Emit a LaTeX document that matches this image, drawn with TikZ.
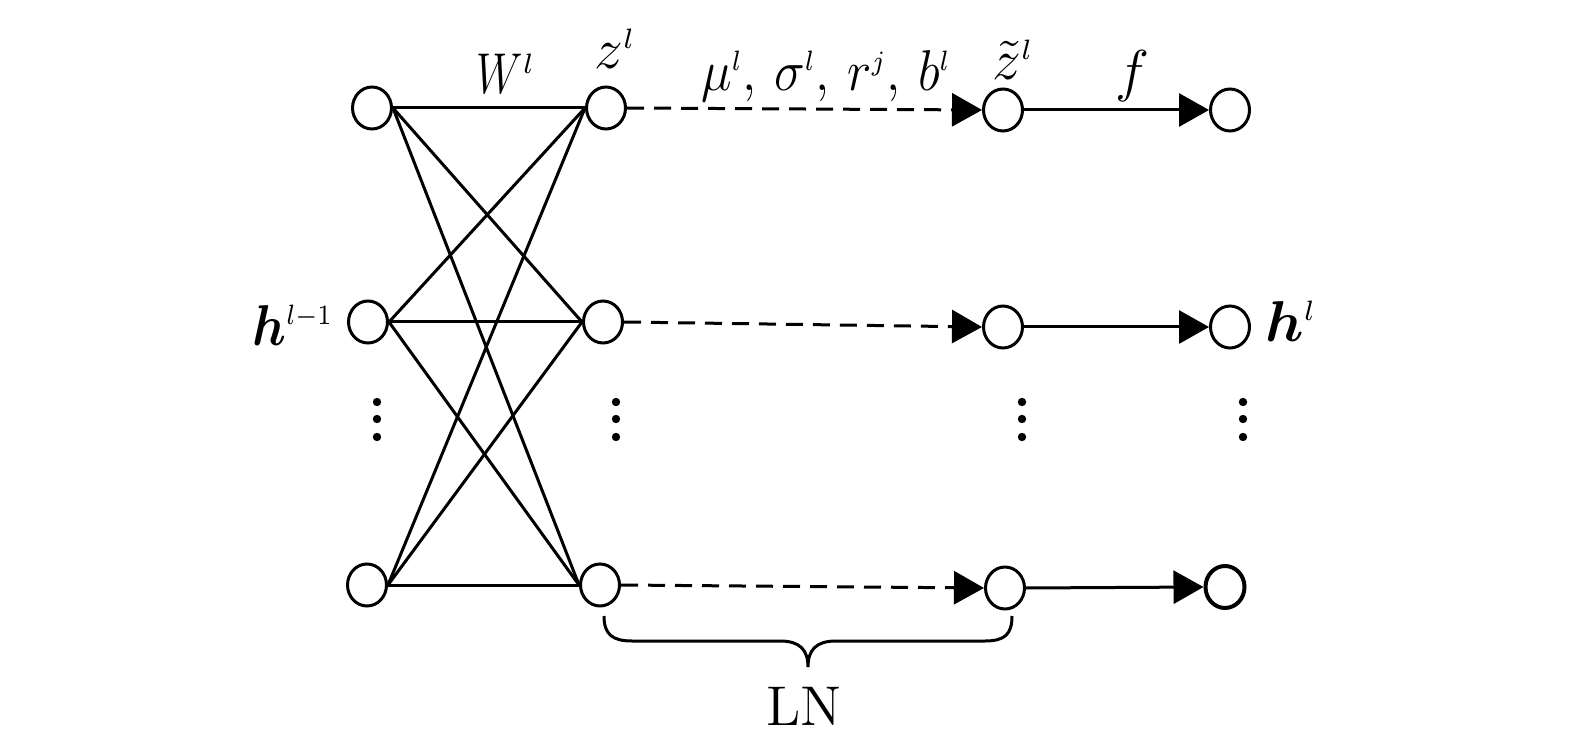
\documentclass[tikz,border=0pt]{standalone}
\usepackage{amsmath,bm,graphicx}
\usetikzlibrary{arrows.meta,shapes.geometric}
\newcommand{\ssup}[1]{^{\scriptscriptstyle #1}}
\begin{document}
\begin{tikzpicture}[x=0.25pt,y=-0.25pt,
  neuron/.style={ellipse,draw,line width=0.75pt,minimum width=9.75pt,minimum height=10.5pt,inner sep=0pt},
  conn/.style={line width=0.75pt},
  lnarrow/.style={line width=0.75pt,dash pattern=on 4.25pt off 2.5pt,-{Triangle[length=7.5pt,width=8.25pt]}},
  farrow/.style={line width=0.75pt,-{Triangle[length=7.5pt,width=8.25pt]}},
  dotnode/.style={circle,fill,inner sep=0pt,minimum size=2.1pt},
  lbl/.style={anchor=base,inner sep=0pt,font=\fontsize{14}{17}\selectfont},
  bracestyle/.style={line width=0.75pt}]
\useasboundingbox (0,0) rectangle (1575,748);
% layer nodes
\node[neuron] (a1) at (372,108) {};
\node[neuron] (a2) at (368,322) {};
\node[neuron] (a3) at (367,585) {};
\node[neuron] (z1) at (606,108) {};
\node[neuron] (z2) at (603,322) {};
\node[neuron] (z3) at (600,585) {};
\node[neuron] (t1) at (1003,110) {};
\node[neuron] (t2) at (1003,327) {};
\node[neuron] (t3) at (1005,588) {};
\node[neuron] (o1) at (1230,110) {};
\node[neuron] (o2) at (1230,327) {};
\node[neuron,line width=1pt] (o3) at (1225,587) {};
% full connections
\foreach \i in {1,2,3}{
  \foreach \j in {1,2,3}{
    \draw[conn] (a\i.east) -- (z\j.west);
  }
}
% LN (dashed) and activation arrows
\foreach \i in {1,2,3}{
  \draw[lnarrow] (z\i.east) -- (t\i.west);
  \draw[farrow] (t\i.east) -- (o\i.west);
}
% vertical dots
\foreach \c/\x in {a/377,z/616,t/1022,o/1243}{
  \node[dotnode] (\c d1) at (\x,402) {};
  \node[dotnode] (\c d2) at (\x,419) {};
  \node[dotnode] (\c d3) at (\x,437) {};
}
% labels
\node[lbl] (lW) at (506,94) {\scalebox{0.76}[1]{$W$}$\ssup{l}$};
\node[lbl] (lz) at (615,69) {$z\ssup{l}$};
\node[lbl] (lp) at (826,91) {\scalebox{0.9}[1]{$\mu\ssup{l},\,\sigma\ssup{l},\,r\ssup{j},\,b\ssup{l}$}};
\node[lbl] (lt) at (1013,80) {$\tilde{z}\ssup{l}$};
\node[lbl] (lf) at (1132,91) {$f$};
\node[lbl,anchor=base east] (lh1) at (334,345) {\scalebox{0.88}[1]{$\bm{h}\ssup{l-1}$}};
\node[lbl] (lh) at (1291,341) {$\bm{h}\ssup{l}$};
\node[lbl] (lLN) at (804,725) {LN};
% brace
\coordinate (bl) at (604,616);
\coordinate (br) at (1012,616);
\coordinate (bt) at (808,667);
\draw[bracestyle] (bl) .. controls (604,634) and (612,641) .. (632,641) -- (780,641)
  .. controls (800,641) and (808,650) .. (bt)
  .. controls (808,650) and (816,641) .. (836,641) -- (985,641)
  .. controls (1005,641) and (1012,634) .. (br);
\end{tikzpicture}
\end{document}
